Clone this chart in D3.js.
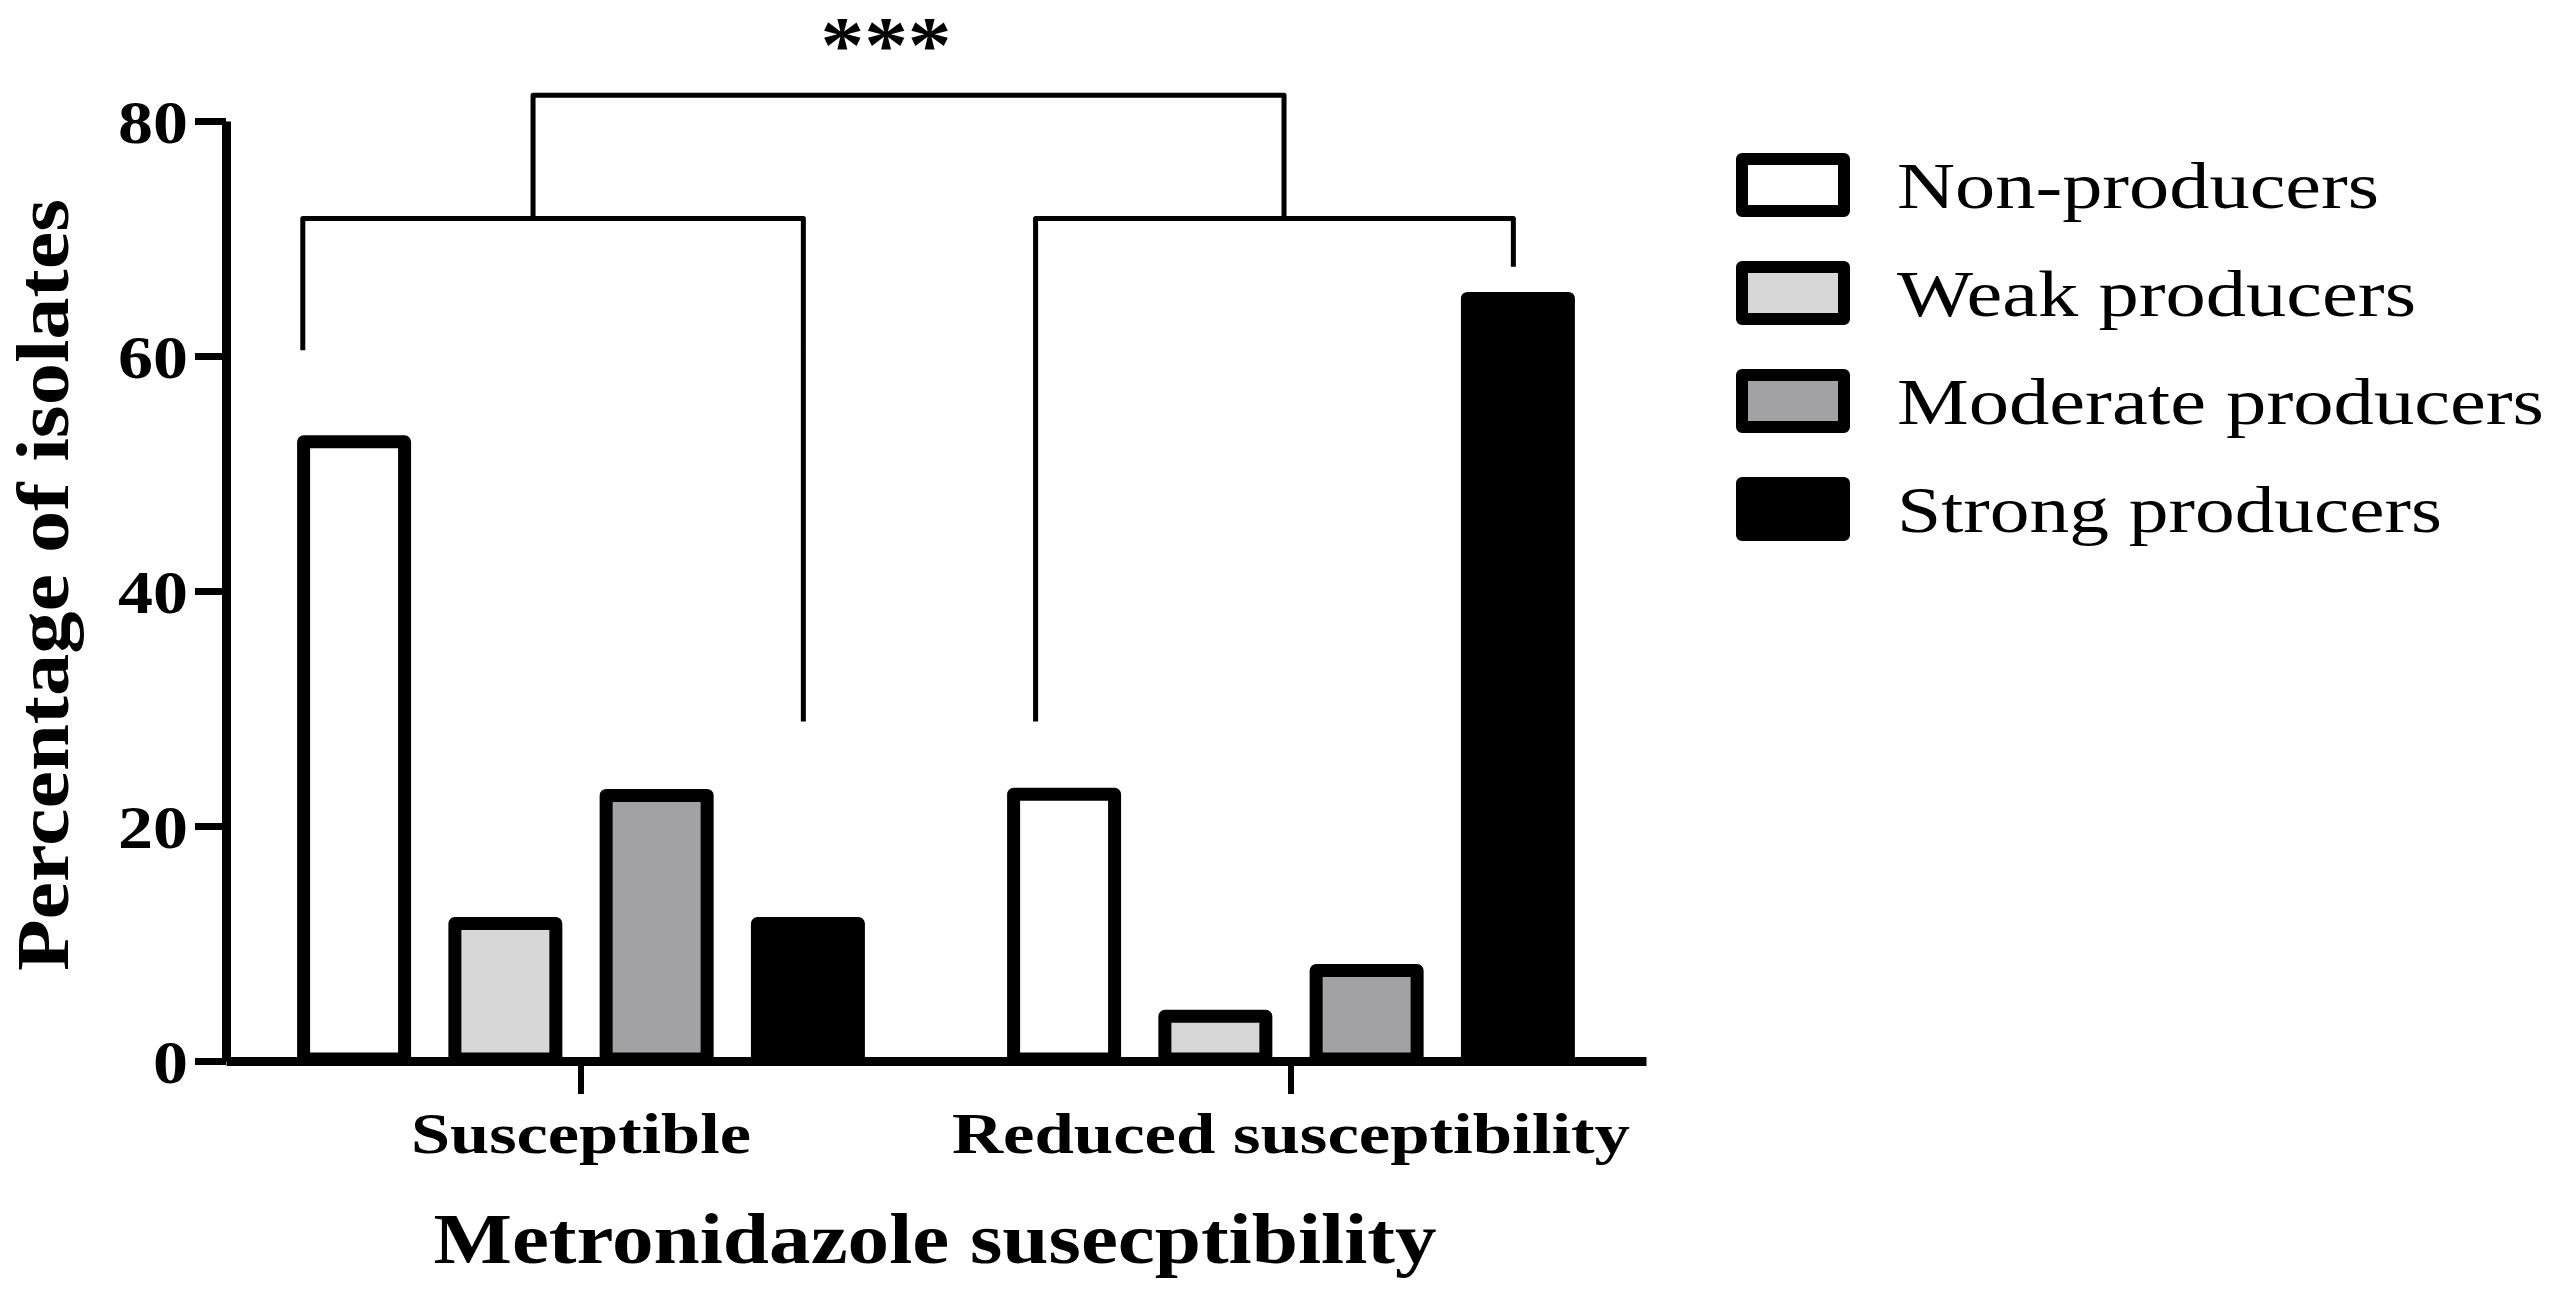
<!DOCTYPE html>
<meta charset="utf-8">

<!-- Load d3.js from CDN-->
<script src="https://d3js.org/d3.v7.min.js"></script>

<style>
  body { margin: 0; background: #ffffff; }
  text { font-family: "Liberation Serif", "Times New Roman", serif; fill: #000; }
</style>

<div id="my_dataviz"></div>

<script>
// data (percentage of isolates)
const categories = ["Susceptible", "Reduced susceptibility"];
const seriesNames = ["Non-producers", "Weak producers", "Moderate producers", "Strong producers"];
const susceptibleValues = [52.7, 11.7, 22.6, 11.7];
const reducedValues = [22.7, 3.8, 7.7, 64.9];
const yTicks = [0, 20, 40, 60, 80];
const seriesFills = ["#ffffff", "#d7d7d7", "#a2a2a5", "#000000"];

// significance brackets (levels in data units)
const bracketCategories = ["Susceptible", "Reduced susceptibility"];
const bracketLegFrom = [["Non-producers", 0.05], ["Non-producers", 0.25]];
const bracketLegTo = [["Strong producers", 0.46], ["Strong producers", 0.46]];
const bracketLegEnds = [[60.5, 28.9], [28.9, 67.6]];
const bracketStemAt = [0.46, 0.52];
const bracketLevel = 71.7;
const topBracketLevel = 82.2;
const starsLevel = 84.2;
const starsText = "***";

// drawing area
const W = 2559, H = 1303;
const axisX = 226, axisEnd = 1646;
const yTop = 121, yBottom = 1061;
const barStroke = 13;

const svg = d3.select("#my_dataviz")
  .append("svg")
    .attr("width", W)
    .attr("height", H)
    .attr("style", "background-color: white; display: block");

// scales
const x0 = d3.scaleBand().domain(categories).range([axisX, axisEnd]).padding(0);
const x1 = d3.scaleBand().domain(seriesNames).range([0, x0.bandwidth()])
  .paddingInner(0.2465).paddingOuter(0.47);
const y = d3.scaleLinear().domain([0, 80]).range([yBottom, yTop]);
const fill = d3.scaleOrdinal().domain(seriesNames).range(seriesFills);

const rows = [
  {cat: categories[0], values: susceptibleValues},
  {cat: categories[1], values: reducedValues}
];

// bars
const groups = svg.selectAll("g.grp")
  .data(rows)
  .join("g")
    .attr("class", "grp")
    .attr("transform", d => "translate(" + x0(d.cat) + ",0)");

groups.selectAll("rect")
  .data(d => d.values.map((v, i) => ({key: seriesNames[i], value: v})))
  .join("rect")
    .attr("x", d => x1(d.key) + barStroke / 2)
    .attr("width", x1.bandwidth() - barStroke)
    .attr("y", d => y(d.value))
    .attr("height", d => y(0) - y(d.value) - 2)
    .attr("fill", d => fill(d.key))
    .attr("stroke", "#000")
    .attr("stroke-width", barStroke)
    .attr("stroke-linejoin", "round");

// y axis
const yAxis = svg.append("g")
  .attr("transform", "translate(" + axisX + ",0)")
  .call(d3.axisLeft(y).tickValues(yTicks).tickSize(31).tickSizeOuter(0).tickPadding(7));
yAxis.select(".domain").attr("stroke-width", 9).attr("stroke", "#000");
yAxis.selectAll(".tick line").attr("stroke-width", 7).attr("stroke", "#000");
yAxis.selectAll(".tick text")
  .attr("font-family", "Liberation Serif")
  .attr("font-weight", "bold")
  .attr("font-size", 62)
  .attr("fill", "#000")
  .attr("dy", "0.34em")
  .attr("textLength", d => String(d).length * 35)
  .attr("lengthAdjust", "spacingAndGlyphs");

// x axis
const xAxis = svg.append("g")
  .attr("transform", "translate(0," + yBottom + ")")
  .call(d3.axisBottom(x0).tickSize(33).tickSizeOuter(0));
xAxis.select(".domain").attr("stroke-width", 9).attr("stroke", "#000");
xAxis.selectAll(".tick line").attr("stroke-width", 6).attr("stroke", "#000");
const xLabelWidths = {"Susceptible": 340, "Reduced susceptibility": 678};
xAxis.selectAll(".tick text")
  .attr("font-family", "Liberation Serif")
  .attr("font-weight", "bold")
  .attr("font-size", 57)
  .attr("fill", "#000")
  .attr("y", 92)
  .attr("dy", 0)
  .attr("textLength", d => xLabelWidths[d])
  .attr("lengthAdjust", "spacingAndGlyphs");

// axis titles
svg.append("text")
  .attr("x", (axisX + axisEnd) / 2 - 1)
  .attr("y", 1263)
  .attr("text-anchor", "middle")
  .attr("font-weight", "bold")
  .attr("font-size", 72)
  .attr("textLength", 1003)
  .attr("lengthAdjust", "spacingAndGlyphs")
  .text("Metronidazole susecptibility");

svg.append("text")
  .attr("transform", "translate(68,585) rotate(-90)")
  .attr("text-anchor", "middle")
  .attr("font-weight", "bold")
  .attr("font-size", 74)
  .attr("textLength", 772)
  .attr("lengthAdjust", "spacingAndGlyphs")
  .text("Percentage of isolates");

// brackets
function legX(cat, leg) {
  return x0(cat) + x1(leg[0]) + leg[1] * x1.bandwidth();
}
const bracketLayer = svg.append("g")
  .attr("fill", "none")
  .attr("stroke", "#000")
  .attr("stroke-width", 5)
  .attr("stroke-linejoin", "round");

const stems = [];
bracketCategories.forEach((cat, i) => {
  const xa = legX(cat, bracketLegFrom[i]);
  const xb = legX(cat, bracketLegTo[i]);
  const p = d3.path();
  p.moveTo(xa, y(bracketLegEnds[i][0]));
  p.lineTo(xa, y(bracketLevel));
  p.lineTo(xb, y(bracketLevel));
  p.lineTo(xb, y(bracketLegEnds[i][1]));
  bracketLayer.append("path").attr("d", p.toString());
  stems.push(xa + bracketStemAt[i] * (xb - xa));
});

const topPath = d3.path();
topPath.moveTo(stems[0], y(bracketLevel));
topPath.lineTo(stems[0], y(topBracketLevel));
topPath.lineTo(stems[1], y(topBracketLevel));
topPath.lineTo(stems[1], y(bracketLevel));
bracketLayer.append("path").attr("d", topPath.toString());

svg.append("text")
  .attr("x", stems[0] + 0.47 * (stems[1] - stems[0]))
  .attr("y", y(starsLevel))
  .attr("text-anchor", "middle")
  .attr("font-weight", "bold")
  .attr("font-size", 80)
  .attr("textLength", 131)
  .attr("lengthAdjust", "spacingAndGlyphs")
  .text(starsText);

// legend
const legendY = d3.scaleBand().domain(seriesNames).range([131, 563]);
const legendWidths = [482, 519, 647, 545];
const legend = svg.append("g");
seriesNames.forEach((name, i) => {
  const cy = legendY(name) + legendY.bandwidth() / 2;
  legend.append("rect")
    .attr("x", 1742)
    .attr("y", cy - 26)
    .attr("width", 102)
    .attr("height", 52)
    .attr("fill", fill(name))
    .attr("stroke", "#000")
    .attr("stroke-width", 12)
    .attr("stroke-linejoin", "round");
  legend.append("text")
    .attr("x", 1897)
    .attr("y", cy + 23)
    .attr("font-size", 65)
    .attr("textLength", legendWidths[i])
    .attr("lengthAdjust", "spacingAndGlyphs")
    .text(name);
});
</script>
